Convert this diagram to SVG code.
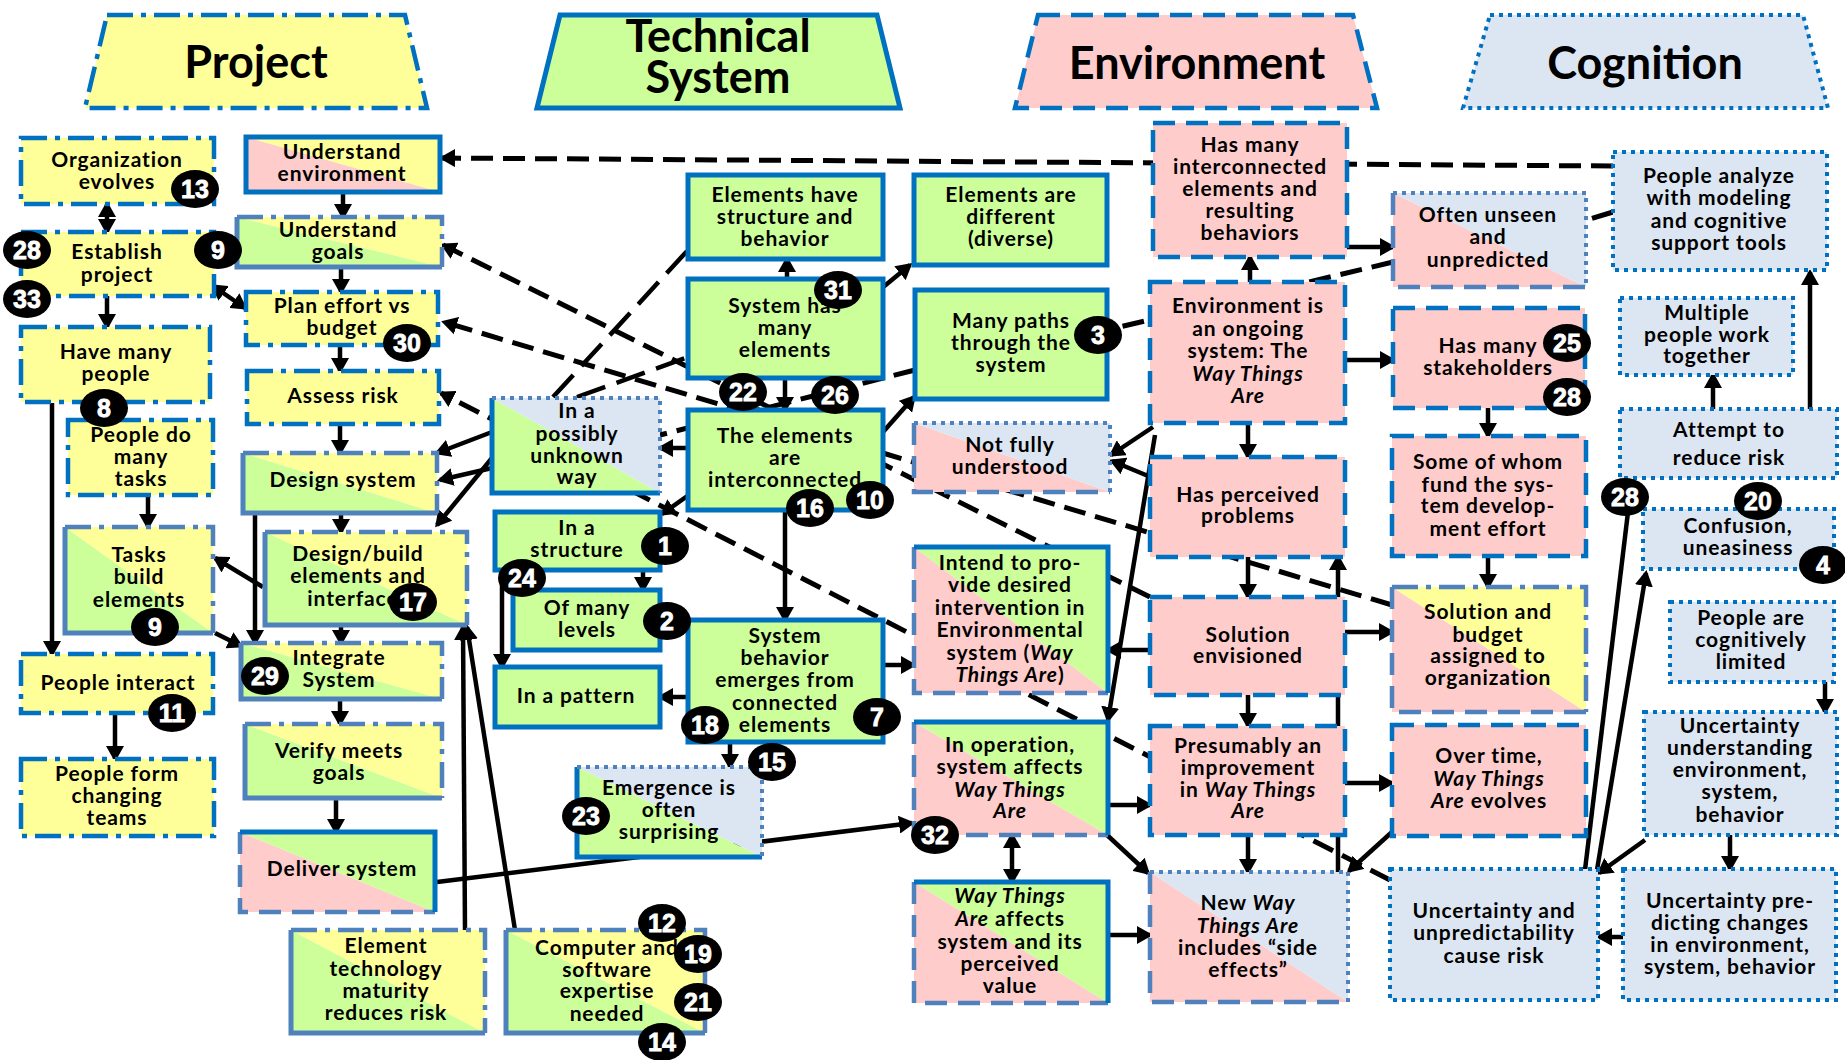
<svg xmlns="http://www.w3.org/2000/svg" width="1845" height="1060" viewBox="0 0 1845 1060">
<defs>
<style>
.fy{fill:#FFFF99}.fg{fill:#CCFF99}.fp{fill:#FFCCCC}.fb{fill:#DCE6F2}
.bp{fill:none;stroke:#0070C0;stroke-width:4.5;stroke-dasharray:26 8 5 8}
.bt{fill:none;stroke:#0070C0;stroke-width:5}
.be{fill:none;stroke:#0070C0;stroke-width:4.5;stroke-dasharray:22 11}
.bc{fill:none;stroke:#0070C0;stroke-width:4;stroke-dasharray:4 5}
.m{stroke:#4F81BD}
.t{font-family:Lato,"Liberation Sans",sans-serif;font-weight:700;font-size:21px;letter-spacing:0.9px;text-anchor:middle;fill:#000}
.h{font-family:Lato,"Liberation Sans",sans-serif;font-weight:700;font-size:45px;text-anchor:middle;fill:#000}
.i{font-style:italic}
.bn{font-family:"Liberation Sans",Arial,sans-serif;font-weight:700;font-size:25px;text-anchor:middle;fill:#fff;stroke:#fff;stroke-width:0.8}
.c{fill:none;stroke:#000;stroke-width:4.5}
.d{stroke-width:5;stroke-dasharray:22 10}
.ld{stroke-dasharray:30 12}
</style>
<marker id="ah" viewBox="0 0 16 18" refX="13" refY="9" markerWidth="16" markerHeight="18" markerUnits="userSpaceOnUse" orient="auto-start-reverse">
<path d="M0,0 L16,9 L0,18 z" fill="#000"/>
</marker>
</defs>
<rect width="1845" height="1060" fill="#fff"/>

<!-- column headings -->
<g id="head-project"><polygon class="fy" points="107,15 405,15 427,108 85,108"/><polygon class="bp" points="107,15 405,15 427,108 85,108"/><text class="h" x="256" y="78">Project</text></g>
<g id="head-technical"><polygon class="fg" points="560,15 877,15 900,108 537,108"/><polygon class="bt" points="560,15 877,15 900,108 537,108"/><text class="h" x="718" y="52">Technical</text><text class="h" x="718" y="93">System</text></g>
<g id="head-environment"><polygon class="fp" points="1038,15 1353,15 1377,108 1015,108"/><polygon class="be" points="1038,15 1353,15 1377,108 1015,108"/><text class="h" x="1197" y="79">Environment</text></g>
<g id="head-cognition"><polygon class="fb" points="1490,15 1803,15 1828,108 1463,108"/><polygon class="bc" points="1490,15 1803,15 1828,108 1463,108"/><text class="h" x="1645" y="79">Cognition</text></g>

<!-- connectors -->
<g id="connectors">
<g marker-end="url(#ah)">
<line class="c" x1="343" y1="192" x2="343" y2="217"/>
<line class="c" x1="341" y1="267" x2="341" y2="292"/>
<line class="c" x1="340" y1="345" x2="340" y2="371"/>
<line class="c" x1="340" y1="424" x2="340" y2="453"/>
<line class="c" x1="341" y1="513" x2="341" y2="532"/>
<line class="c" x1="341" y1="625" x2="341" y2="643"/>
<line class="c" x1="340" y1="699" x2="340" y2="724"/>
<line class="c" x1="336" y1="798" x2="336" y2="832"/>
<line class="c" x1="107" y1="296" x2="107" y2="327"/>
<line class="c" x1="52" y1="403" x2="52" y2="654"/>
<line class="c" x1="148" y1="495" x2="148" y2="527"/>
<line class="c" x1="263" y1="587" x2="215" y2="558"/>
<line class="c" x1="215" y1="633" x2="241" y2="646"/>
<line class="c" x1="255" y1="515" x2="255" y2="643"/>
<line class="c" x1="115" y1="713" x2="115" y2="759"/>
<line class="c" x1="465" y1="930" x2="463" y2="627"/>
<line class="c" x1="515" y1="930" x2="467" y2="627"/>
<line class="c" x1="437" y1="882" x2="912" y2="823"/>
<line class="c" x1="643" y1="570" x2="643" y2="590"/>
<line class="c" x1="502" y1="580" x2="502" y2="667"/>
<line class="c" x1="688" y1="448" x2="660" y2="448"/>
<line class="c" x1="693" y1="492" x2="662" y2="514"/>
<line class="c" x1="785" y1="378" x2="785" y2="410"/>
<line class="c" x1="787" y1="279" x2="787" y2="259"/>
<line class="c" x1="882" y1="288" x2="910" y2="265"/>
<line class="c" x1="883" y1="432" x2="914" y2="397"/>
<line class="c" x1="785" y1="510" x2="785" y2="620"/>
<line class="c" x1="688" y1="697" x2="660" y2="697"/>
<line class="c" x1="883" y1="665" x2="914" y2="665"/>
<line class="c" x1="730" y1="742" x2="730" y2="767"/>
<line class="c" x1="492" y1="432" x2="437" y2="453"/>
<line class="c" x1="492" y1="468" x2="440" y2="480"/>
<line class="c" x1="492" y1="458" x2="437" y2="525"/>
<line class="c" x1="1153" y1="427" x2="1111" y2="455"/>
<line class="c" x1="1153" y1="478" x2="1112" y2="461"/>
<line class="c" x1="1155" y1="435" x2="1108" y2="720"/>
<line class="c" x1="1150" y1="650" x2="1108" y2="650"/>
<line class="c" x1="1248" y1="557" x2="1248" y2="597"/>
<line class="c" x1="1338" y1="872" x2="1338" y2="557"/>
<line class="c" x1="1248" y1="423" x2="1248" y2="457"/>
<line class="c" x1="1250" y1="282" x2="1250" y2="257"/>
<line class="c" x1="1345" y1="360" x2="1393" y2="360"/>
<line class="c" x1="1347" y1="247" x2="1393" y2="247"/>
<line class="c" x1="1345" y1="632" x2="1392" y2="632"/>
<line class="c" x1="1248" y1="695" x2="1248" y2="726"/>
<line class="c" x1="1345" y1="783" x2="1392" y2="783"/>
<line class="c" x1="1248" y1="835" x2="1248" y2="872"/>
<line class="c" x1="1108" y1="805" x2="1150" y2="805"/>
<line class="c" x1="1107" y1="835" x2="1148" y2="873"/>
<line class="c" x1="1108" y1="935" x2="1150" y2="935"/>
<line class="c" x1="1488" y1="408" x2="1488" y2="436"/>
<line class="c" x1="1488" y1="556" x2="1488" y2="587"/>
<line class="c" x1="1392" y1="832" x2="1349" y2="871"/>
<line class="c" x1="1597" y1="870" x2="1646" y2="573"/>
<line class="c" x1="1645" y1="840" x2="1599" y2="873"/>
<line class="c" x1="1730" y1="835" x2="1730" y2="869"/>
<line class="c" x1="1623" y1="937" x2="1599" y2="937"/>
<line class="c" x1="1825" y1="682" x2="1825" y2="712"/>
<line class="c" x1="1713" y1="409" x2="1713" y2="375"/>
<line class="c" x1="1810" y1="409" x2="1810" y2="272"/>
<line class="c d" x1="1613" y1="166" x2="442" y2="158"/>
<line class="c d" x1="1150" y1="597" x2="443" y2="245"/>
<line class="c d" x1="1392" y1="605" x2="444" y2="322"/>
<line class="c d" x1="1390" y1="880" x2="441" y2="393"/>
</g>
<g marker-start="url(#ah)" marker-end="url(#ah)">
<line class="c" x1="107" y1="204" x2="107" y2="232"/>
<line class="c" x1="213" y1="286" x2="245" y2="308"/>
<line class="c" x1="1012" y1="835" x2="1012" y2="882"/>
</g>
<line class="c" x1="1585" y1="870" x2="1628" y2="512"/>
<line class="c d" x1="1613" y1="212" x2="1587" y2="220"/>
<line class="c d" x1="1393" y1="262" x2="1107" y2="330"/>
<line class="c d" x1="915" y1="370" x2="660" y2="435"/>
<line class="c ld" x1="553" y1="397" x2="688" y2="250"/>
<line class="c ld" x1="577" y1="397" x2="688" y2="357"/>
</g>

<!-- Project column -->
<g id="org"><rect class="fy" x="21" y="138" width="193" height="66"/><rect class="bp" x="21" y="138" width="193" height="66"/><text class="t" x="117"><tspan x="117" y="167">Organization</tspan><tspan x="117" y="189">evolves</tspan></text></g>
<g id="establish"><rect class="fy" x="21" y="232" width="193" height="64"/><rect class="bp" x="21" y="232" width="193" height="64"/><text class="t"><tspan x="117" y="259">Establish</tspan><tspan x="117" y="282">project</tspan></text></g>
<g id="have-many"><rect class="fy" x="21" y="327" width="189" height="75"/><rect class="bp" x="21" y="327" width="189" height="75"/><text class="t"><tspan x="116" y="359">Have many</tspan><tspan x="116" y="381">people</tspan></text></g>
<g id="people-do"><rect class="fy" x="68" y="420" width="145" height="75"/><rect class="bp" x="68" y="420" width="145" height="75"/><text class="t"><tspan x="141" y="442">People do</tspan><tspan x="141" y="464">many</tspan><tspan x="141" y="486">tasks</tspan></text></g>
<g id="tasks"><polygon class="fg" points="65,527 65,633 213,633"/><polygon class="fy" points="65,527 213,527 213,633"/><path class="bt m" d="M65,527 V633 H213"/><path class="bp m" d="M65,527 H213 V633"/><text class="t"><tspan x="139" y="562">Tasks</tspan><tspan x="139" y="584">build</tspan><tspan x="139" y="607">elements</tspan></text></g>
<g id="interact"><rect class="fy" x="21" y="654" width="192" height="59"/><rect class="bp" x="21" y="654" width="192" height="59"/><text class="t" x="118" y="690">People interact</text></g>
<g id="teams"><rect class="fy" x="21" y="759" width="193" height="77"/><rect class="bp" x="21" y="759" width="193" height="77"/><text class="t"><tspan x="117" y="781">People form</tspan><tspan x="117" y="803">changing</tspan><tspan x="117" y="825">teams</tspan></text></g>

<g id="understand-env"><polygon class="fp" points="246,137 246,192 440,192"/><polygon class="fy" points="246,137 440,137 440,192"/><rect class="bt" x="246" y="137" width="194" height="55"/><text class="t"><tspan x="342" y="159">Understand</tspan><tspan x="342" y="181">environment</tspan></text></g>
<g id="understand-goals"><polygon class="fg" points="237,217 237,267 442,267"/><polygon class="fy" points="237,217 442,217 442,267"/><path class="bt m" d="M237,217 V267 H442"/><path class="bp m" d="M237,217 H442 V267"/><text class="t"><tspan x="338" y="237">Understand</tspan><tspan x="338" y="259">goals</tspan></text></g>
<g id="plan"><rect class="fy" x="246" y="292" width="192" height="53"/><rect class="bp" x="246" y="292" width="192" height="53"/><text class="t"><tspan x="342" y="313">Plan effort vs</tspan><tspan x="342" y="335">budget</tspan></text></g>
<g id="assess"><rect class="fy" x="247" y="371" width="192" height="53"/><rect class="bp" x="247" y="371" width="192" height="53"/><text class="t" x="343" y="403">Assess risk</text></g>
<g id="design"><polygon class="fg" points="243,453 243,513 437,513"/><polygon class="fy" points="243,453 437,453 437,513"/><path class="bt m" d="M243,453 V513 H437"/><path class="bp m" d="M243,453 H437 V513"/><text class="t" x="343" y="487">Design system</text></g>
<g id="design-build"><polygon class="fg" points="265,532 265,625 467,625"/><polygon class="fy" points="265,532 467,532 467,625"/><path class="bt m" d="M265,532 V625 H467"/><path class="bp m" d="M265,532 H467 V625"/><text class="t"><tspan x="358" y="561">Design/build</tspan><tspan x="358" y="583">elements and</tspan><tspan x="358" y="606">interfaces</tspan></text></g>
<g id="integrate"><polygon class="fg" points="241,643 241,699 442,699"/><polygon class="fy" points="241,643 442,643 442,699"/><path class="bt m" d="M241,643 V699 H442"/><path class="bp m" d="M241,643 H442 V699"/><text class="t"><tspan x="339" y="665">Integrate</tspan><tspan x="339" y="687">System</tspan></text></g>
<g id="verify"><polygon class="fg" points="245,724 245,798 442,798"/><polygon class="fy" points="245,724 442,724 442,798"/><path class="bt m" d="M245,724 V798 H442"/><path class="bp m" d="M245,724 H442 V798"/><text class="t"><tspan x="339" y="758">Verify meets</tspan><tspan x="339" y="780">goals</tspan></text></g>
<g id="deliver"><polygon class="fp" points="240,832 240,912 435,912"/><polygon class="fg" points="240,832 435,832 435,912"/><path class="be m" d="M240,832 V912 H435"/><path class="bt" d="M240,832 H435 V912"/><text class="t" x="342" y="876">Deliver system</text></g>
<g id="element-tech"><polygon class="fg" points="291,930 291,1033 485,1033"/><polygon class="fy" points="291,930 485,930 485,1033"/><path class="bt m" d="M291,930 V1033 H485"/><path class="bp m" d="M291,930 H485 V1033"/><text class="t"><tspan x="386" y="953">Element</tspan><tspan x="386" y="976">technology</tspan><tspan x="386" y="998">maturity</tspan><tspan x="386" y="1020">reduces risk</tspan></text></g>
<g id="computer"><polygon class="fg" points="506,930 506,1033 705,1033"/><polygon class="fy" points="506,930 705,930 705,1033"/><path class="bt m" d="M506,930 V1033 H705"/><path class="bp m" d="M506,930 H705 V1033"/><text class="t"><tspan x="607" y="955">Computer and</tspan><tspan x="607" y="977">software</tspan><tspan x="607" y="998">expertise</tspan><tspan x="607" y="1021">needed</tspan></text></g>

<!-- Technical system column -->
<g id="possibly"><polygon class="fg" points="492,398 492,493 660,493"/><polygon class="fb" points="492,398 660,398 660,493"/><path class="bt" d="M492,398 V493 H660"/><path class="bc m" d="M492,398 H660 V493"/><text class="t"><tspan x="577" y="418">In a</tspan><tspan x="577" y="441">possibly</tspan><tspan x="577" y="463">unknown</tspan><tspan x="577" y="484">way</tspan></text></g>
<g id="structure"><rect class="fg" x="495" y="512" width="165" height="58"/><rect class="bt" x="495" y="512" width="165" height="58"/><text class="t"><tspan x="577" y="535">In a</tspan><tspan x="577" y="557">structure</tspan></text></g>
<g id="levels"><rect class="fg" x="513" y="590" width="147" height="60"/><rect class="bt" x="513" y="590" width="147" height="60"/><text class="t"><tspan x="587" y="615">Of many</tspan><tspan x="587" y="637">levels</tspan></text></g>
<g id="pattern"><rect class="fg" x="495" y="667" width="165" height="60"/><rect class="bt" x="495" y="667" width="165" height="60"/><text class="t" x="576" y="703">In a pattern</text></g>
<g id="elements-have"><rect class="fg" x="688" y="175" width="195" height="84"/><rect class="bt" x="688" y="175" width="195" height="84"/><text class="t"><tspan x="785" y="202">Elements have</tspan><tspan x="785" y="224">structure and</tspan><tspan x="785" y="246">behavior</tspan></text></g>
<g id="system-many"><rect class="fg" x="688" y="279" width="195" height="99"/><rect class="bt" x="688" y="279" width="195" height="99"/><text class="t"><tspan x="785" y="313">System has</tspan><tspan x="785" y="335">many</tspan><tspan x="785" y="357">elements</tspan></text></g>
<g id="interconnected"><rect class="fg" x="688" y="410" width="195" height="100"/><rect class="bt" x="688" y="410" width="195" height="100"/><text class="t"><tspan x="785" y="443">The elements</tspan><tspan x="785" y="465">are</tspan><tspan x="785" y="487">interconnected</tspan></text></g>
<g id="behavior"><rect class="fg" x="688" y="620" width="195" height="122"/><rect class="bt" x="688" y="620" width="195" height="122"/><text class="t"><tspan x="785" y="643">System</tspan><tspan x="785" y="665">behavior</tspan><tspan x="785" y="687">emerges from</tspan><tspan x="785" y="710">connected</tspan><tspan x="785" y="732">elements</tspan></text></g>
<g id="emergence"><polygon class="fg" points="577,767 577,857 762,857"/><polygon class="fb" points="577,767 762,767 762,857"/><path class="bt" d="M577,767 V857 H762"/><path class="bc m" d="M577,767 H762 V857"/><text class="t"><tspan x="669" y="795">Emergence is</tspan><tspan x="669" y="817">often</tspan><tspan x="669" y="839">surprising</tspan></text></g>
<g id="different"><rect class="fg" x="914" y="175" width="193" height="90"/><rect class="bt" x="914" y="175" width="193" height="90"/><text class="t"><tspan x="1011" y="202">Elements are</tspan><tspan x="1011" y="224">different</tspan><tspan x="1011" y="246">(diverse)</tspan></text></g>
<g id="paths"><rect class="fg" x="915" y="290" width="192" height="109"/><rect class="bt" x="915" y="290" width="192" height="109"/><text class="t"><tspan x="1011" y="328">Many paths</tspan><tspan x="1011" y="350">through the</tspan><tspan x="1011" y="372">system</tspan></text></g>
<g id="not-fully"><polygon class="fp" points="914,423 914,492 1110,492"/><polygon class="fb" points="914,423 1110,423 1110,492"/><path class="be m" d="M914,423 V492 H1110"/><path class="bc m" d="M914,423 H1110 V492"/><text class="t"><tspan x="1010" y="452">Not fully</tspan><tspan x="1010" y="474">understood</tspan></text></g>
<g id="intend"><polygon class="fp" points="914,547 914,693 1108,693"/><polygon class="fg" points="914,547 1108,547 1108,693"/><path class="be m" d="M914,547 V693 H1108"/><path class="bt" d="M914,547 H1108 V693"/><text class="t"><tspan x="1010" y="570">Intend to pro-</tspan><tspan x="1010" y="592">vide desired</tspan><tspan x="1010" y="615">intervention in</tspan><tspan x="1010" y="637">Environmental</tspan><tspan x="1010" y="660">system (<tspan class="i">Way</tspan></tspan><tspan x="1010" y="682"><tspan class="i">Things Are</tspan>)</tspan></text></g>
<g id="in-operation"><polygon class="fp" points="914,722 914,835 1108,835"/><polygon class="fg" points="914,722 1108,722 1108,835"/><path class="be m" d="M914,722 V835 H1108"/><path class="bt" d="M914,722 H1108 V835"/><text class="t"><tspan x="1010" y="752">In operation,</tspan><tspan x="1010" y="774">system affects</tspan><tspan x="1010" y="797" class="i">Way Things</tspan><tspan x="1010" y="818" class="i">Are</tspan></text></g>
<g id="wta-affects"><polygon class="fp" points="914,882 914,1003 1108,1003"/><polygon class="fg" points="914,882 1108,882 1108,1003"/><path class="be m" d="M914,882 V1003 H1108"/><path class="bt" d="M914,882 H1108 V1003"/><text class="t"><tspan x="1010" y="903" class="i">Way Things</tspan><tspan x="1010" y="926"><tspan class="i">Are</tspan> affects</tspan><tspan x="1010" y="949">system and its</tspan><tspan x="1010" y="971">perceived</tspan><tspan x="1010" y="993">value</tspan></text></g>

<!-- Environment column -->
<g id="env-many"><rect class="fp" x="1153" y="123" width="194" height="134"/><rect class="be" x="1153" y="123" width="194" height="134"/><text class="t"><tspan x="1250" y="152">Has many</tspan><tspan x="1250" y="174">interconnected</tspan><tspan x="1250" y="196">elements and</tspan><tspan x="1250" y="218">resulting</tspan><tspan x="1250" y="240">behaviors</tspan></text></g>
<g id="env-system"><rect class="fp" x="1150" y="282" width="195" height="141"/><rect class="be" x="1150" y="282" width="195" height="141"/><text class="t"><tspan x="1248" y="313">Environment is</tspan><tspan x="1248" y="336">an ongoing</tspan><tspan x="1248" y="358">system: The</tspan><tspan x="1248" y="381" class="i">Way Things</tspan><tspan x="1248" y="403" class="i">Are</tspan></text></g>
<g id="perceived"><rect class="fp" x="1150" y="457" width="195" height="100"/><rect class="be" x="1150" y="457" width="195" height="100"/><text class="t"><tspan x="1248" y="502">Has perceived</tspan><tspan x="1248" y="523">problems</tspan></text></g>
<g id="solution"><rect class="fp" x="1150" y="597" width="195" height="98"/><rect class="be" x="1150" y="597" width="195" height="98"/><text class="t"><tspan x="1248" y="642">Solution</tspan><tspan x="1248" y="663">envisioned</tspan></text></g>
<g id="presumably"><rect class="fp" x="1150" y="726" width="195" height="109"/><rect class="be" x="1150" y="726" width="195" height="109"/><text class="t"><tspan x="1248" y="753">Presumably an</tspan><tspan x="1248" y="775">improvement</tspan><tspan x="1248" y="797">in <tspan class="i">Way Things</tspan></tspan><tspan x="1248" y="818" class="i">Are</tspan></text></g>
<g id="new-way"><polygon class="fp" points="1150,872 1150,1002 1348,1002"/><polygon class="fb" points="1150,872 1348,872 1348,1002"/><path class="be m" d="M1150,872 V1002 H1348"/><path class="bc m" d="M1150,872 H1348 V1002"/><text class="t"><tspan x="1248" y="910">New <tspan class="i">Way</tspan></tspan><tspan x="1248" y="933" class="i">Things Are</tspan><tspan x="1248" y="955">includes “side</tspan><tspan x="1248" y="977">effects”</tspan></text></g>
<g id="unseen"><polygon class="fp" points="1393,193 1393,287 1586,287"/><polygon class="fb" points="1393,193 1586,193 1586,287"/><path class="be m" d="M1393,193 V287 H1586"/><path class="bc m" d="M1393,193 H1586 V287"/><text class="t"><tspan x="1488" y="222">Often unseen</tspan><tspan x="1488" y="244">and</tspan><tspan x="1488" y="267">unpredicted</tspan></text></g>
<g id="stakeholders"><rect class="fp" x="1393" y="308" width="192" height="100"/><rect class="be" x="1393" y="308" width="192" height="100"/><text class="t"><tspan x="1488" y="353">Has many</tspan><tspan x="1488" y="375">stakeholders</tspan></text></g>
<g id="fund"><rect class="fp" x="1392" y="436" width="194" height="120"/><rect class="be" x="1392" y="436" width="194" height="120"/><text class="t"><tspan x="1488" y="469">Some of whom</tspan><tspan x="1488" y="492">fund  the sys-</tspan><tspan x="1488" y="513">tem develop-</tspan><tspan x="1488" y="536">ment effort</tspan></text></g>
<g id="budget"><polygon class="fp" points="1392,587 1392,712 1586,712"/><polygon class="fy" points="1392,587 1586,587 1586,712"/><path class="be m" d="M1392,587 V712 H1586"/><path class="bp m" d="M1392,587 H1586 V712"/><text class="t"><tspan x="1488" y="619">Solution and</tspan><tspan x="1488" y="642">budget</tspan><tspan x="1488" y="663">assigned to</tspan><tspan x="1488" y="685">organization</tspan></text></g>
<g id="over-time"><rect class="fp" x="1392" y="725" width="194" height="111"/><rect class="be" x="1392" y="725" width="194" height="111"/><text class="t"><tspan x="1489" y="763">Over time,</tspan><tspan x="1489" y="786" class="i">Way Things</tspan><tspan x="1489" y="808"><tspan class="i">Are</tspan> evolves</tspan></text></g>
<g id="cause-risk"><rect class="fb" x="1390" y="869" width="208" height="131"/><rect class="bc" x="1390" y="869" width="208" height="131"/><text class="t"><tspan x="1494" y="918">Uncertainty and</tspan><tspan x="1494" y="940">unpredictability</tspan><tspan x="1494" y="963">cause risk</tspan></text></g>

<!-- Cognition column -->
<g id="analyze"><rect class="fb" x="1613" y="152" width="214" height="118"/><rect class="bc" x="1613" y="152" width="214" height="118"/><text class="t"><tspan x="1719" y="183">People analyze</tspan><tspan x="1719" y="205">with modeling</tspan><tspan x="1719" y="228">and cognitive</tspan><tspan x="1719" y="250">support tools</tspan></text></g>
<g id="multiple"><rect class="fb" x="1620" y="298" width="173" height="77"/><rect class="bc" x="1620" y="298" width="173" height="77"/><text class="t"><tspan x="1707" y="320">Multiple</tspan><tspan x="1707" y="342">people work</tspan><tspan x="1707" y="363">together</tspan></text></g>
<g id="attempt"><rect class="fb" x="1620" y="409" width="217" height="69"/><rect class="bc" x="1620" y="409" width="217" height="69"/><text class="t"><tspan x="1729" y="437">Attempt to</tspan><tspan x="1729" y="465">reduce risk</tspan></text></g>
<g id="confusion"><rect class="fb" x="1643" y="509" width="191" height="60"/><rect class="bc" x="1643" y="509" width="191" height="60"/><text class="t"><tspan x="1738" y="533">Confusion,</tspan><tspan x="1738" y="555">uneasiness</tspan></text></g>
<g id="limited"><rect class="fb" x="1670" y="602" width="164" height="80"/><rect class="bc" x="1670" y="602" width="164" height="80"/><text class="t"><tspan x="1751" y="625">People are</tspan><tspan x="1751" y="647">cognitively</tspan><tspan x="1751" y="669">limited</tspan></text></g>
<g id="unc-understanding"><rect class="fb" x="1644" y="712" width="193" height="123"/><rect class="bc" x="1644" y="712" width="193" height="123"/><text class="t"><tspan x="1740" y="733">Uncertainty</tspan><tspan x="1740" y="755">understanding</tspan><tspan x="1740" y="777">environment,</tspan><tspan x="1740" y="799">system,</tspan><tspan x="1740" y="822">behavior</tspan></text></g>
<g id="unc-predicting"><rect class="fb" x="1623" y="869" width="213" height="131"/><rect class="bc" x="1623" y="869" width="213" height="131"/><text class="t"><tspan x="1730" y="908">Uncertainty pre-</tspan><tspan x="1730" y="930">dicting changes</tspan><tspan x="1730" y="952">in environment,</tspan><tspan x="1730" y="974">system, behavior</tspan></text></g>

<!-- numbered badges -->
<g id="badges">
<g transform="translate(195,189)"><ellipse rx="24" ry="19"/><text class="bn" y="9">13</text></g>
<g transform="translate(27,250)"><ellipse rx="24" ry="19"/><text class="bn" y="9">28</text></g>
<g transform="translate(27,299)"><ellipse rx="24" ry="19"/><text class="bn" y="9">33</text></g>
<g transform="translate(218,250)"><ellipse rx="24" ry="19"/><text class="bn" y="9">9</text></g>
<g transform="translate(407,343)"><ellipse rx="24" ry="19"/><text class="bn" y="9">30</text></g>
<g transform="translate(104,408)"><ellipse rx="24" ry="19"/><text class="bn" y="9">8</text></g>
<g transform="translate(155,627)"><ellipse rx="24" ry="19"/><text class="bn" y="9">9</text></g>
<g transform="translate(413,602)"><ellipse rx="24" ry="19"/><text class="bn" y="9">17</text></g>
<g transform="translate(265,676)"><ellipse rx="24" ry="19"/><text class="bn" y="9">29</text></g>
<g transform="translate(172,713)"><ellipse rx="24" ry="19"/><text class="bn" y="9">11</text></g>
<g transform="translate(838,290)"><ellipse rx="24" ry="19"/><text class="bn" y="9">31</text></g>
<g transform="translate(743,392)"><ellipse rx="24" ry="19"/><text class="bn" y="9">22</text></g>
<g transform="translate(835,395)"><ellipse rx="24" ry="19"/><text class="bn" y="9">26</text></g>
<g transform="translate(810,508)"><ellipse rx="24" ry="19"/><text class="bn" y="9">16</text></g>
<g transform="translate(870,500)"><ellipse rx="24" ry="19"/><text class="bn" y="9">10</text></g>
<g transform="translate(665,546)"><ellipse rx="24" ry="19"/><text class="bn" y="9">1</text></g>
<g transform="translate(522,578)"><ellipse rx="24" ry="19"/><text class="bn" y="9">24</text></g>
<g transform="translate(667,621)"><ellipse rx="24" ry="19"/><text class="bn" y="9">2</text></g>
<g transform="translate(705,725)"><ellipse rx="24" ry="19"/><text class="bn" y="9">18</text></g>
<g transform="translate(877,717)"><ellipse rx="24" ry="19"/><text class="bn" y="9">7</text></g>
<g transform="translate(772,762)"><ellipse rx="24" ry="19"/><text class="bn" y="9">15</text></g>
<g transform="translate(586,816)"><ellipse rx="24" ry="19"/><text class="bn" y="9">23</text></g>
<g transform="translate(662,923)"><ellipse rx="24" ry="19"/><text class="bn" y="9">12</text></g>
<g transform="translate(698,954)"><ellipse rx="24" ry="19"/><text class="bn" y="9">19</text></g>
<g transform="translate(698,1002)"><ellipse rx="24" ry="19"/><text class="bn" y="9">21</text></g>
<g transform="translate(662,1042)"><ellipse rx="24" ry="19"/><text class="bn" y="9">14</text></g>
<g transform="translate(1098,335)"><ellipse rx="24" ry="19"/><text class="bn" y="9">3</text></g>
<g transform="translate(935,835)"><ellipse rx="24" ry="19"/><text class="bn" y="9">32</text></g>
<g transform="translate(1567,343)"><ellipse rx="24" ry="19"/><text class="bn" y="9">25</text></g>
<g transform="translate(1567,397)"><ellipse rx="24" ry="19"/><text class="bn" y="9">28</text></g>
<g transform="translate(1625,497)"><ellipse rx="24" ry="19"/><text class="bn" y="9">28</text></g>
<g transform="translate(1758,501)"><ellipse rx="24" ry="19"/><text class="bn" y="9">20</text></g>
<g transform="translate(1823,565)"><ellipse rx="24" ry="19"/><text class="bn" y="9">4</text></g>
</g>
</svg>
